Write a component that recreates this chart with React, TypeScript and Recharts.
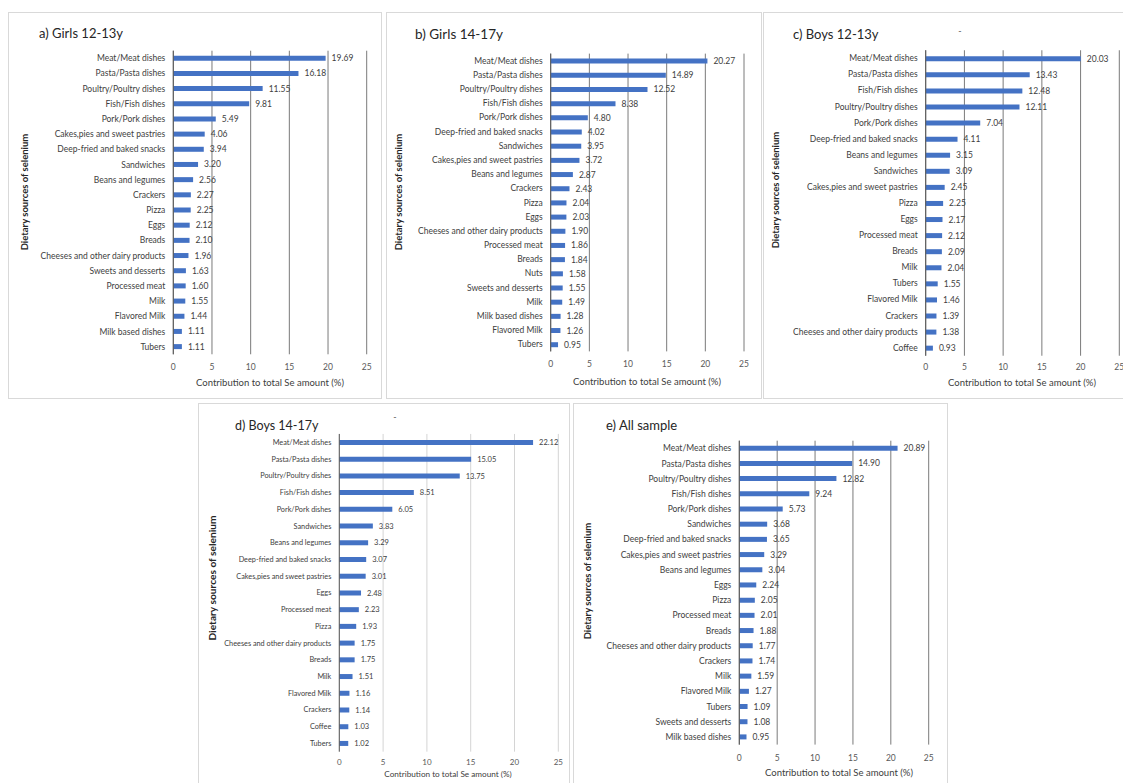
import React from 'react';
import {Bar, BarChart, CartesianGrid, LabelList, XAxis, YAxis} from 'recharts';

const BAR_COLOR = '#4472C4';
const X_TICKS = [0, 5, 10, 15, 20, 25];
const X_LABEL = 'Contribution to total Se amount (%)';
const Y_LABEL = 'Dietary sources of selenium';

// a) Girls 12-13y
const girls1213Names = [
  'Meat/Meat dishes', 'Pasta/Pasta dishes', 'Poultry/Poultry dishes', 'Fish/Fish dishes',
  'Pork/Pork dishes', 'Cakes,pies and sweet pastries', 'Deep-fried and baked snacks', 'Sandwiches',
  'Beans and legumes', 'Crackers', 'Pizza', 'Eggs', 'Breads', 'Cheeses and other dairy products',
  'Sweets and desserts', 'Processed meat', 'Milk', 'Flavored Milk', 'Milk based dishes', 'Tubers',
];
const girls1213Values = [19.69, 16.18, 11.55, 9.81, 5.49, 4.06, 3.94, 3.2, 2.56, 2.27, 2.25, 2.12, 2.1, 1.96, 1.63, 1.6, 1.55, 1.44, 1.11, 1.11];

// b) Girls 14-17y
const girls1417Names = [
  'Meat/Meat dishes', 'Pasta/Pasta dishes', 'Poultry/Poultry dishes', 'Fish/Fish dishes',
  'Pork/Pork dishes', 'Deep-fried and baked snacks', 'Sandwiches', 'Cakes,pies and sweet pastries',
  'Beans and legumes', 'Crackers', 'Pizza', 'Eggs', 'Cheeses and other dairy products',
  'Processed meat', 'Breads', 'Nuts', 'Sweets and desserts', 'Milk', 'Milk based dishes',
  'Flavored Milk', 'Tubers',
];
const girls1417Values = [20.27, 14.89, 12.52, 8.38, 4.8, 4.02, 3.95, 3.72, 2.87, 2.43, 2.04, 2.03, 1.9, 1.86, 1.84, 1.58, 1.55, 1.49, 1.28, 1.26, 0.95];

// c) Boys 12-13y
const boys1213Names = [
  'Meat/Meat dishes', 'Pasta/Pasta dishes', 'Fish/Fish dishes', 'Poultry/Poultry dishes',
  'Pork/Pork dishes', 'Deep-fried and baked snacks', 'Beans and legumes', 'Sandwiches',
  'Cakes,pies and sweet pastries', 'Pizza', 'Eggs', 'Processed meat', 'Breads', 'Milk', 'Tubers',
  'Flavored Milk', 'Crackers', 'Cheeses and other dairy products', 'Coffee',
];
const boys1213Values = [20.03, 13.43, 12.48, 12.11, 7.04, 4.11, 3.15, 3.09, 2.45, 2.25, 2.17, 2.12, 2.09, 2.04, 1.55, 1.46, 1.39, 1.38, 0.93];

// d) Boys 14-17y
const boys1417Names = [
  'Meat/Meat dishes', 'Pasta/Pasta dishes', 'Poultry/Poultry dishes', 'Fish/Fish dishes',
  'Pork/Pork dishes', 'Sandwiches', 'Beans and legumes', 'Deep-fried and baked snacks',
  'Cakes,pies and sweet pastries', 'Eggs', 'Processed meat', 'Pizza',
  'Cheeses and other dairy products', 'Breads', 'Milk', 'Flavored Milk', 'Crackers', 'Coffee', 'Tubers',
];
const boys1417Values = [22.12, 15.05, 13.75, 8.51, 6.05, 3.83, 3.29, 3.07, 3.01, 2.48, 2.23, 1.93, 1.75, 1.75, 1.51, 1.16, 1.14, 1.03, 1.02];

// e) All sample
const allNames = [
  'Meat/Meat dishes', 'Pasta/Pasta dishes', 'Poultry/Poultry dishes', 'Fish/Fish dishes',
  'Pork/Pork dishes', 'Sandwiches', 'Deep-fried and baked snacks', 'Cakes,pies and sweet pastries',
  'Beans and legumes', 'Eggs', 'Pizza', 'Processed meat', 'Breads', 'Cheeses and other dairy products',
  'Crackers', 'Milk', 'Flavored Milk', 'Tubers', 'Sweets and desserts', 'Milk based dishes',
];
const allValues = [20.89, 14.9, 12.82, 9.24, 5.73, 3.68, 3.65, 3.29, 3.04, 2.24, 2.05, 2.01, 1.88, 1.77, 1.74, 1.59, 1.27, 1.09, 1.08, 0.95];

type Pt = {x: number; y: number};
interface PanelCfg {
  title: string;
  names: string[];
  values: number[];
  box: {left: number; top: number; width: number; height: number};
  x0: number;
  x25: number;
  firstY: number;
  lastY: number;
  tickY: number;
  titlePos: Pt;
  titleFs: number;
  xLabelPos: Pt;
  yLabelPos: Pt;
  dash?: Pt;
  catFs: number;
  valFs: number;
  tickFs: number;
  xlFs: number;
  ylFs: number;
  grid: string;
}

const big = {catFs: 8.5, valFs: 8.5, tickFs: 8.5, xlFs: 9.5, ylFs: 9.5, grid: '#7a7a7a'};

const panels: PanelCfg[] = [
  {
    title: 'a) Girls 12-13y', names: girls1213Names, values: girls1213Values,
    box: {left: 8, top: 12, width: 374, height: 387},
    x0: 173.3, x25: 366.7, firstY: 58.3, lastY: 346.7, tickY: 366.7,
    titlePos: {x: 39, y: 33}, titleFs: 13, xLabelPos: {x: 270, y: 382.3}, yLabelPos: {x: 24, y: 192}, ...big,
  },
  {
    title: 'b) Girls 14-17y', names: girls1417Names, values: girls1417Values,
    box: {left: 386, top: 12, width: 376, height: 387},
    x0: 550.7, x25: 744, firstY: 60.7, lastY: 344.3, tickY: 364,
    titlePos: {x: 415, y: 34}, titleFs: 13.5, xLabelPos: {x: 647, y: 380.7}, yLabelPos: {x: 398, y: 192}, ...big,
  },
  {
    title: 'c) Boys 12-13y', names: boys1213Names, values: boys1213Values,
    box: {left: 763, top: 12, width: 380, height: 387},
    x0: 925.7, x25: 1119.3, firstY: 58.3, lastY: 347.7, tickY: 366.7,
    titlePos: {x: 793, y: 34}, titleFs: 13, xLabelPos: {x: 1022, y: 382.3}, yLabelPos: {x: 775, y: 190},
    dash: {x: 960, y: 30}, ...big,
  },
  {
    title: 'd) Boys 14-17y', names: boys1417Names, values: boys1417Values,
    box: {left: 198, top: 403, width: 372, height: 390},
    x0: 339.3, x25: 558.3, firstY: 442.3, lastY: 743.3, tickY: 761.7,
    titlePos: {x: 235, y: 425}, titleFs: 12.5, xLabelPos: {x: 448, y: 774.3}, yLabelPos: {x: 212, y: 578},
    dash: {x: 395, y: 416},
    catFs: 7.3, valFs: 7.5, tickFs: 8, xlFs: 8.2, ylFs: 10.2, grid: '#d4d4d4',
  },
  {
    title: 'e) All sample', names: allNames, values: allValues,
    box: {left: 573, top: 403, width: 375, height: 390},
    x0: 739.3, x25: 928.7, firstY: 448.3, lastY: 737, tickY: 757.7,
    titlePos: {x: 606, y: 425}, titleFs: 13, xLabelPos: {x: 839, y: 772.3}, yLabelPos: {x: 587, y: 581}, ...big,
  },
];

// plain svg text so long category names never wrap
const CategoryTick = ({x, y, payload, fontSize}: any) => (
  <text x={x} y={y} dy='0.355em' textAnchor='end' fontSize={fontSize} fill='#404040'>
    {payload.value}
  </text>
);

const Panel = ({cfg}: {cfg: PanelCfg}) => {
  const {box} = cfg;
  const data = cfg.names.map((name, i) => ({name, value: cfg.values[i]}));
  const band = (cfg.lastY - cfg.firstY) / (data.length - 1);
  const plotTop = cfg.firstY - band / 2 - box.top;
  const plotBottom = cfg.lastY + band / 2 - box.top;
  const tickMargin = cfg.tickY - box.top - plotBottom - 6 - 0.36 * cfg.tickFs;

  return (
    <>
      <div
        style={{
          position: 'absolute', left: box.left, top: box.top, width: box.width, height: box.height,
          border: '1px solid #d9d9d9', boxSizing: 'border-box',
        }}
      />
      <div style={{position: 'absolute', left: box.left, top: box.top}}>
        <BarChart
          width={box.width}
          height={box.height}
          layout='vertical'
          data={data}
          margin={{top: plotTop, right: box.left + box.width - cfg.x25, bottom: 0, left: 0}}
        >
          <CartesianGrid horizontal={false} stroke={cfg.grid} />
          <XAxis
            type='number'
            domain={[0, 25]}
            ticks={X_TICKS}
            axisLine={false}
            tickLine={false}
            tickMargin={tickMargin}
            height={box.height - plotBottom}
            tick={{fontSize: cfg.tickFs, fill: '#595959'}}
          />
          <YAxis
            type='category'
            dataKey='name'
            width={cfg.x0 - box.left}
            interval={0}
            tickLine={false}
            axisLine={{stroke: '#595959'}}
            tick={<CategoryTick fontSize={cfg.catFs} />}
          />
          <Bar dataKey='value' fill={BAR_COLOR} barSize={5} isAnimationActive={false}>
            <LabelList
              dataKey='value'
              position='right'
              offset={6}
              formatter={(v: number) => v.toFixed(2)}
              style={{fontSize: cfg.valFs, fill: '#404040'}}
            />
          </Bar>
        </BarChart>
      </div>
      <div
        style={{
          position: 'absolute', left: cfg.titlePos.x, top: cfg.titlePos.y, transform: 'translateY(-50%)',
          fontSize: cfg.titleFs, color: '#262626', whiteSpace: 'nowrap',
        }}
      >
        {cfg.title}
      </div>
      {cfg.dash && (
        <div
          style={{
            position: 'absolute', left: cfg.dash.x, top: cfg.dash.y, transform: 'translate(-50%,-50%)',
            fontSize: 9, color: '#595959',
          }}
        >
          -
        </div>
      )}
      <div
        style={{
          position: 'absolute', left: cfg.xLabelPos.x, top: cfg.xLabelPos.y, transform: 'translate(-50%,-50%)',
          fontSize: cfg.xlFs, color: '#404040', whiteSpace: 'nowrap',
        }}
      >
        {X_LABEL}
      </div>
      <div
        style={{
          position: 'absolute', left: cfg.yLabelPos.x, top: cfg.yLabelPos.y,
          transform: 'translate(-50%,-50%) rotate(-90deg)',
          fontSize: cfg.ylFs, fontWeight: 700, color: '#262626', whiteSpace: 'nowrap',
        }}
      >
        {Y_LABEL}
      </div>
    </>
  );
};

export default function App() {
  return (
    <div
      style={{
        position: 'absolute', left: 0, top: 0, width: 1123, height: 783, overflow: 'hidden',
        background: '#fff', fontFamily: 'Lato, "Open Sans", sans-serif',
      }}
    >
      {panels.map((p) => (
        <Panel key={p.title} cfg={p} />
      ))}
    </div>
  );
}
